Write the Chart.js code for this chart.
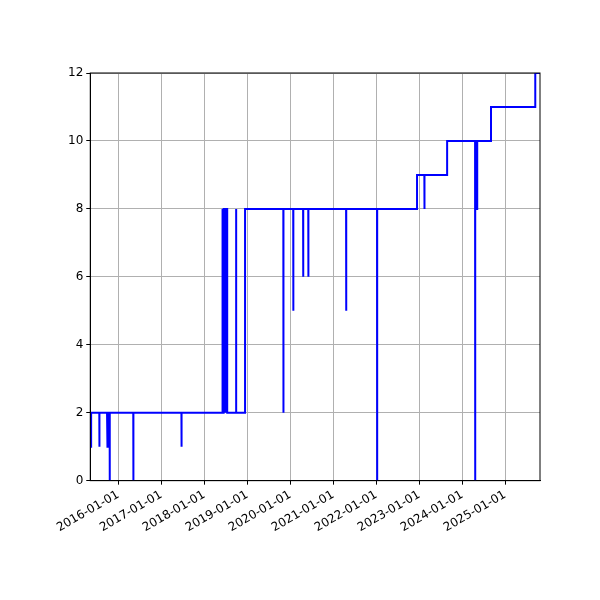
<!DOCTYPE html>
<html><head><script src="https://cdn.jsdelivr.net/npm/chart.js"></script>
<style>body{margin:0;background:#fff}</style></head>
<body><div style="width:600px;height:600px"><canvas id="c"></canvas></div>
<script>
const times = [2015.35,2015.37,2015.56,2015.565,2015.74,2015.745,2015.76,2015.77,2015.80,2015.805,
 2016.35,2016.355,2017.47,2017.475,
 2018.42,2018.43,2018.44,2018.45,2018.46,2018.47,2018.48,2018.49,2018.50,2018.51,2018.53,2018.535,2018.74,2018.745,2018.95,
 2019.84,2019.845,2020.07,2020.075,2020.30,2020.305,2020.42,2020.425,2021.30,2021.305,2022.02,2022.025,
 2022.95,2023.12,2023.125,2023.65,2024.30,2024.305,2024.34,2024.35,2024.67,2025.70,2025.81];
const values = [1,2,1,2,1,2,1,2,0,2,
 0,2,1,2,
 8,2,8,2,8,2,8,2,8,2,8,2,8,2,8,
 2,8,5,8,6,8,6,8,5,8,0,8,
 9,8,9,10,0,10,8,10,11,12,12];
const yearTicks = [2016,2017,2018,2019,2020,2021,2022,2023,2024,2025];
const pts = [];
for (let i=0;i<times.length;i++){
  if(i>0) pts.push({x:times[i],y:values[i-1]});
  pts.push({x:times[i],y:values[i]});
}
Chart.defaults.font.family='DejaVu Sans';
Chart.defaults.font.size=12;
Chart.defaults.color='#000';
new Chart(document.getElementById('c'),{
 type:'line',
 data:{datasets:[{data:pts,borderColor:'#0000ff',borderWidth:2,pointRadius:0,tension:0,fill:false}]},
 options:{responsive:true,maintainAspectRatio:false,animation:false,
  layout:{padding:{left:65,right:60,top:73,bottom:62}},
  plugins:{legend:{display:false},tooltip:{enabled:false}},
  scales:{
   x:{type:'linear',min:2015.35,max:2025.81,
      afterBuildTicks:(s)=>{s.ticks=yearTicks.map(v=>({value:v}));},
      ticks:{minRotation:30,maxRotation:30,callback:v=>v+'-01-01'},
      grid:{color:'#b0b0b0',tickColor:'#000',tickLength:4},
      border:{color:'#000'}},
   y:{min:0,max:12,ticks:{stepSize:2},
      grid:{color:'#b0b0b0',tickColor:'#000',tickLength:4},
      border:{color:'#000'}}
  }},
 plugins:[{id:'frame',afterDraw(c){const a=c.chartArea,x=c.ctx;x.save();x.strokeStyle='#000';x.lineWidth=1;x.strokeRect(a.left,a.top,a.right-a.left,a.bottom-a.top);x.restore();}}]
});
</script></body></html>
